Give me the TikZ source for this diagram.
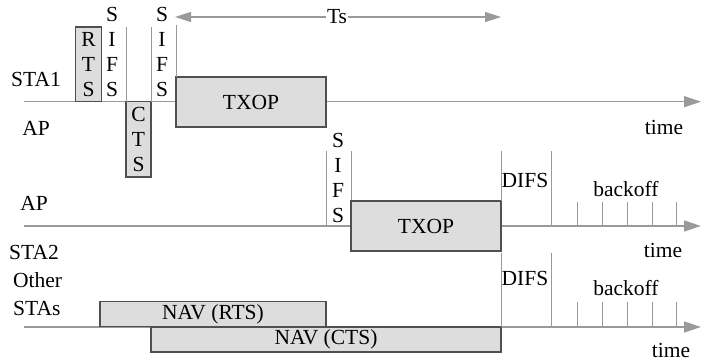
\documentclass[tikz,border=0pt]{standalone}
\usepackage{fontspec}
\setmainfont{Liberation Serif}
\usetikzlibrary{arrows.meta}
\definecolor{tlgray}{HTML}{9A9A9A}
\definecolor{boxfill}{HTML}{DDDDDD}
\definecolor{boxdraw}{HTML}{505050}
\begin{document}
\begin{tikzpicture}[x=1pt,y=-1pt,
  every node/.style={font=\rmfamily\fontsize{21.5}{24.7}\selectfont, inner sep=0pt, text=black},
  tl/.style={draw=tlgray, line width=1.6pt, -{Triangle[length=17pt,width=11pt,fill=tlgray]}},
  sep/.style={draw=tlgray, line width=1pt},
  box/.style={draw=boxdraw, fill=boxfill, line width=1.1pt, align=center},
  vtext/.style={align=center},
  tsarrow/.style={draw=tlgray, line width=1.2pt, -{Triangle[length=16pt,width=10pt,fill=tlgray]}}
]
\useasboundingbox (0,0) rectangle (705,363);

% timelines
\coordinate (t1s) at (24,101.7); \coordinate (t1e) at (701,101.7);
\coordinate (t2s) at (24,226); \coordinate (t2e) at (701,226);
\coordinate (t3s) at (24,327); \coordinate (t3e) at (701,327);
\draw[tl] (t1s) -- (t1e);
\draw[tl] (t2s) -- (t2e);
\draw[tl] (t3s) -- (t3e);

% labels
\node (sta1) at (36,79) {STA1};
\node (ap1) at (36,128) {AP};
\node (ap2) at (34,203) {AP};
\node (sta2) at (34,252) {STA2};
\node[anchor=west] (other) at (13,280) {Other};
\node[anchor=west] (stas) at (13,308) {STAs};
\node (time1) at (664,127) {time};
\node (time2) at (663,250) {time};
\node (time3) at (671,350) {time};

% row 1 boxes
\node[box, minimum width=25.3pt, minimum height=74.7pt] (rts) at (88.5,64.4) {R\\T\\S};
\node[box, minimum width=25pt, minimum height=75.3pt] (cts) at (138.5,139.4) {C\\T\\S};
\node[box, minimum width=150pt, minimum height=50pt] (txop1) at (251,102) {TXOP};

% SIFS columns row 1
\node[vtext] (sifs1) at (112,52) {S\\I\\F\\S};
\node[vtext] (sifs2) at (162,52) {S\\I\\F\\S};
\coordinate (s1a) at (126,27); \coordinate (s1b) at (126,101.7);
\coordinate (s2a) at (151,27); \coordinate (s2b) at (151,101.7);
\coordinate (s3a) at (176,25); \coordinate (s3b) at (176,77);
\draw[sep] (s1a) -- (s1b);
\draw[sep] (s2a) -- (s2b);
\draw[sep] (s3a) -- (s3b);

% Ts arrow
\node[fill=white, inner xsep=1pt] (ts) at (337,17) {Ts};
\coordinate (tsl) at (175,17); \coordinate (tsr) at (501,17);
\draw[tsarrow] (ts) -- (tsl);
\draw[tsarrow] (ts) -- (tsr);

% row 2
\node[vtext] (sifs3) at (338,178) {S\\I\\F\\S};
\coordinate (s4a) at (326,151); \coordinate (s4b) at (326,226);
\coordinate (s5a) at (351,151); \coordinate (s5b) at (351,201);
\draw[sep] (s4a) -- (s4b);
\draw[sep] (s5a) -- (s5b);
\node[box, minimum width=150pt, minimum height=50pt] (txop2) at (426,226) {TXOP};
\coordinate (d1a) at (501,151); \coordinate (d1b) at (501,201);
\coordinate (d2a) at (551,151); \coordinate (d2b) at (551,226);
\draw[sep] (d1a) -- (d1b);
\draw[sep] (d2a) -- (d2b);
\node (difs1) at (525,180) {DIFS};
\node (backoff1) at (626,189) {backoff};
\foreach \x in {577,602,627,652,676} {
  \coordinate (ka\x) at (\x,202); \coordinate (kb\x) at (\x,226);
  \draw[sep] (ka\x) -- (kb\x);
}

% row 3
\node[box, minimum width=226pt, minimum height=25.3pt] (navrts) at (213,314.3) {NAV (RTS)};
\node[box, minimum width=350pt, minimum height=25pt] (navcts) at (326,339.5) {NAV (CTS)};
\coordinate (d3a) at (501,253); \coordinate (d3b) at (501,327);
\coordinate (d4a) at (551,253); \coordinate (d4b) at (551,327);
\draw[sep] (d3a) -- (d3b);
\draw[sep] (d4a) -- (d4b);
\node (difs2) at (525,278) {DIFS};
\node (backoff2) at (626,288) {backoff};
\foreach \x in {577,602,627,652,676} {
  \coordinate (la\x) at (\x,302); \coordinate (lb\x) at (\x,327);
  \draw[sep] (la\x) -- (lb\x);
}
\end{tikzpicture}
\end{document}
